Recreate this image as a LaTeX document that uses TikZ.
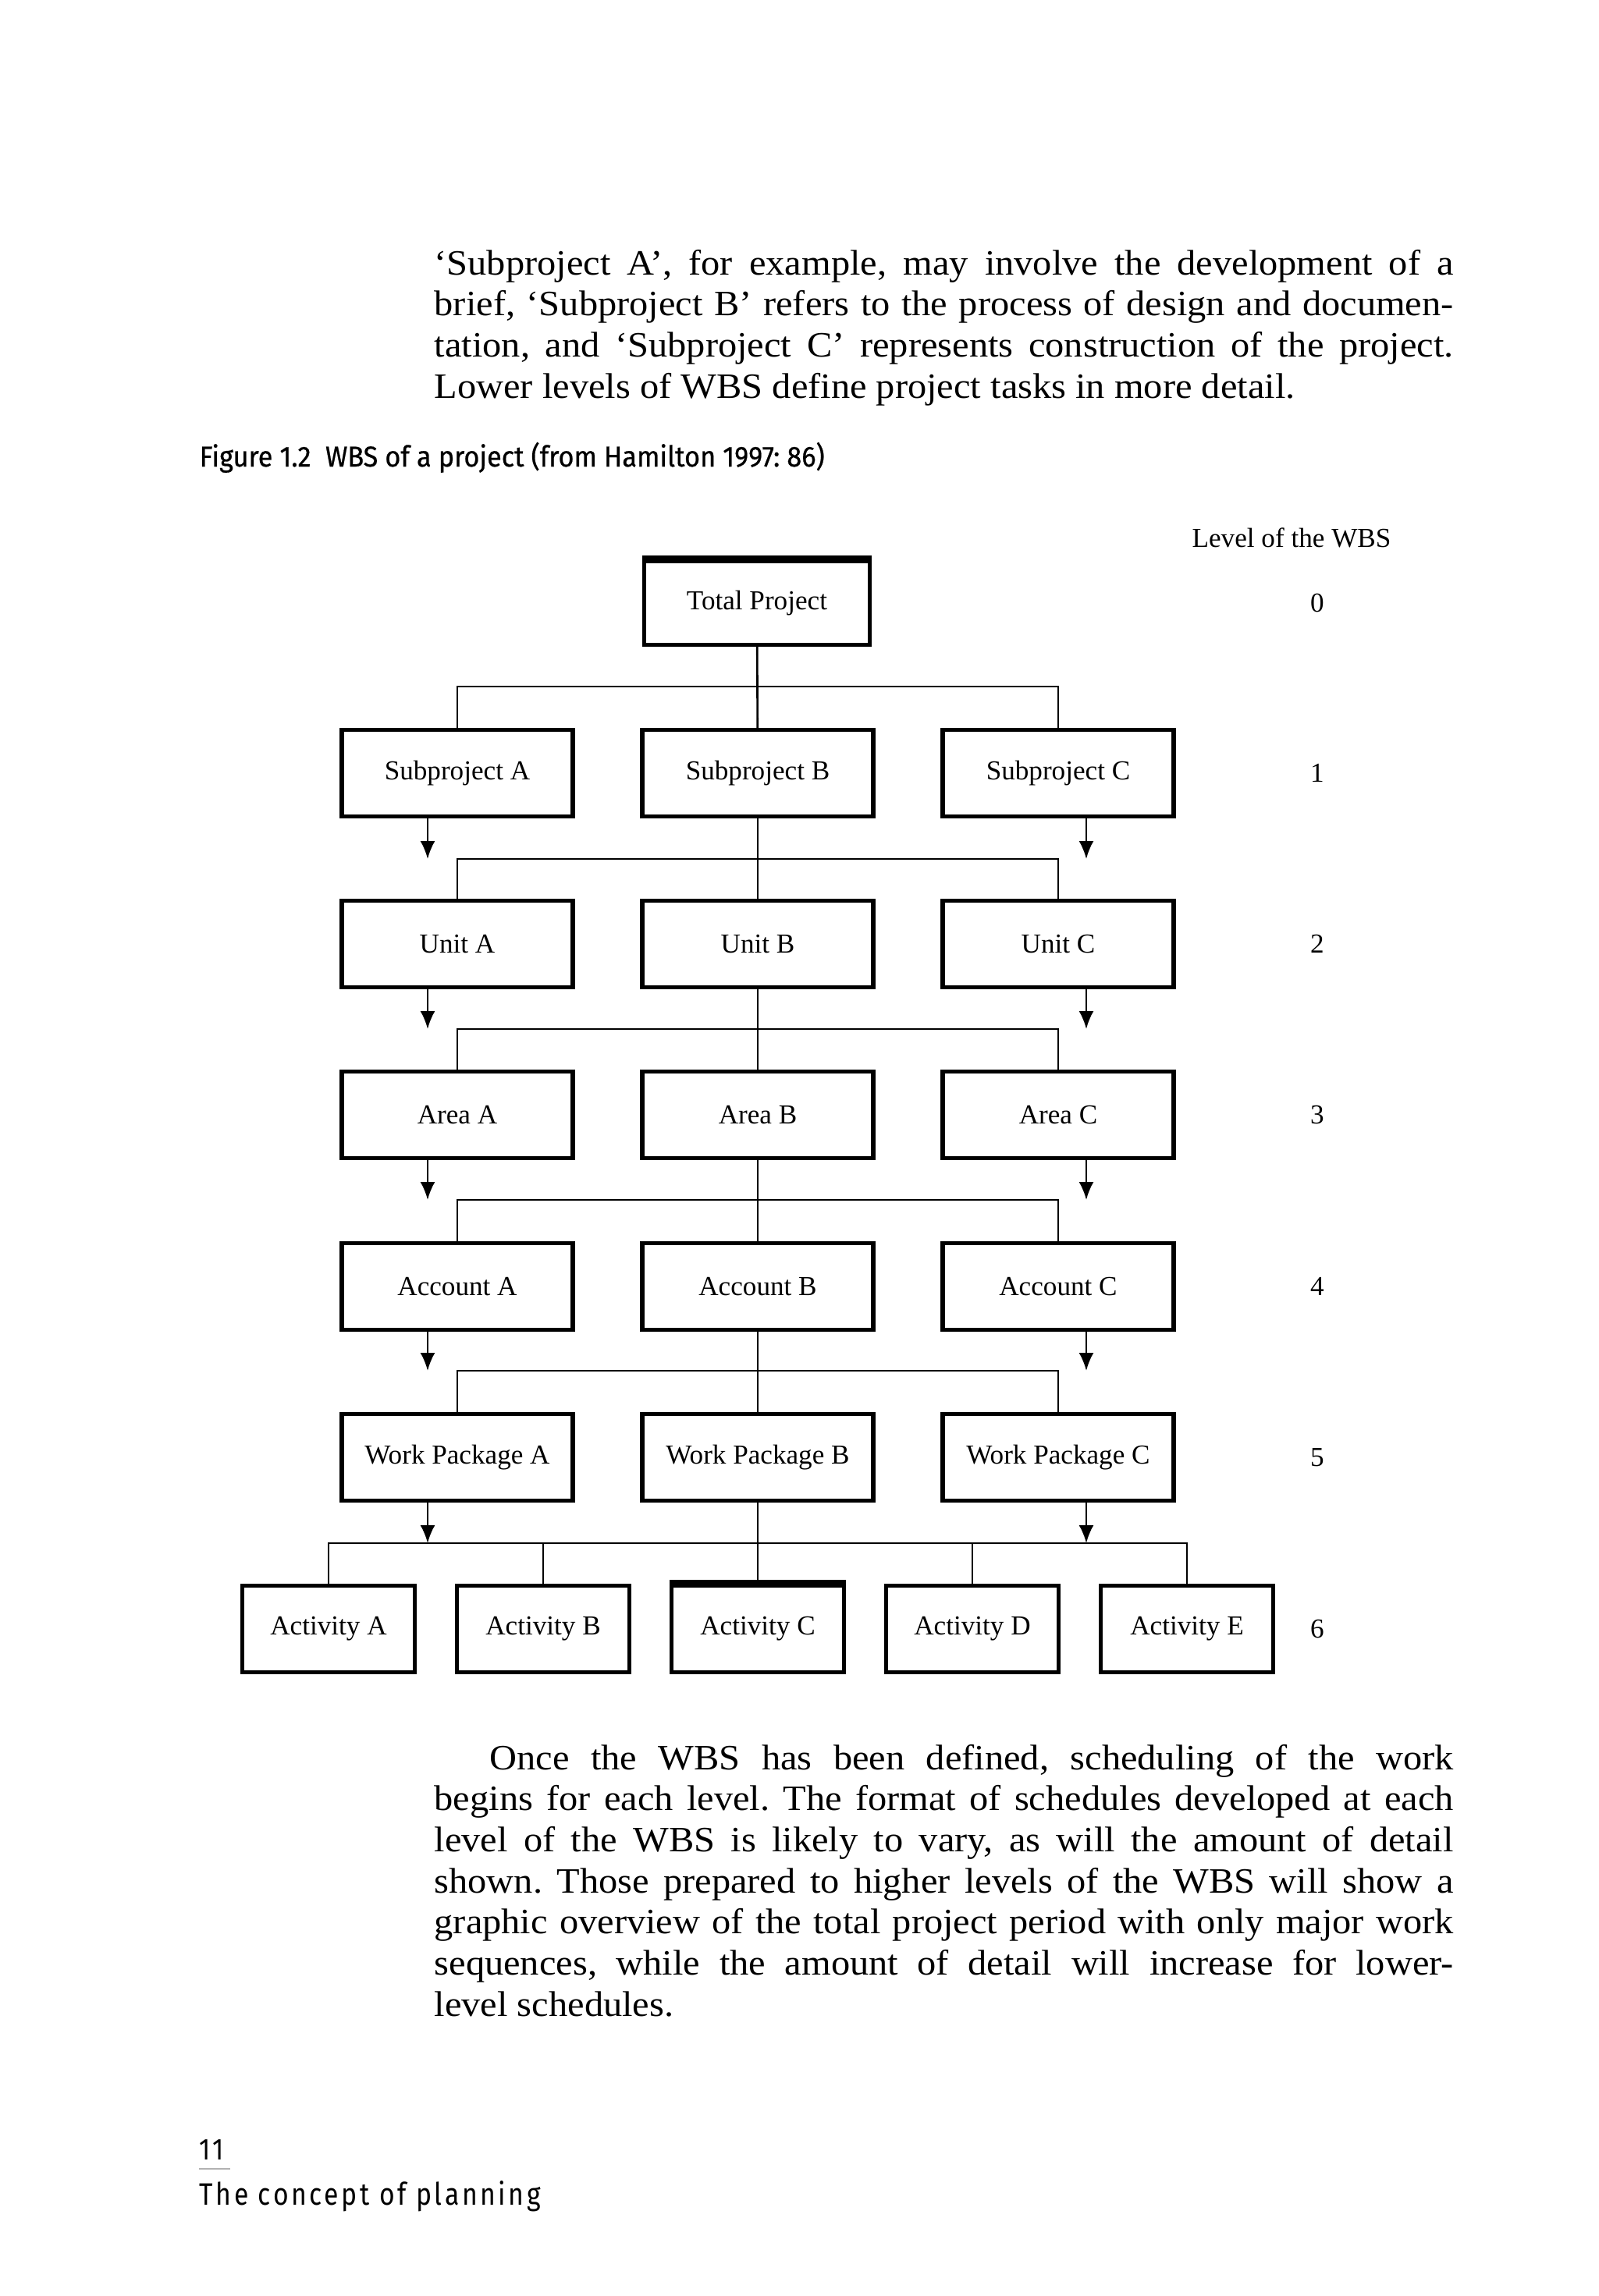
\documentclass[tikz,border=0pt]{standalone}
\usepackage{fontspec}
\setmainfont{Liberation Serif}
\newfontfamily\corps[FakeStretch=1.06]{Liberation Serif}
\newfontfamily\legende[FakeStretch=0.93,FakeBold=0.6]{Fira Sans}
\newfontfamily\pied[FakeStretch=0.85,LetterSpace=9]{Fira Sans}
\usetikzlibrary{arrows.meta}

\begin{document}
\frenchspacing
\begin{tikzpicture}
\tikzset{boite/.style={draw, line width=1.5pt, minimum width=2.96cm, minimum height=1.11cm, inner sep=0pt, font=\fontsize{10}{12}\selectfont},
petite/.style={boite, minimum width=2.21cm},
lien/.style={line width=0.75pt},
fleche/.style={lien, -{Latex[length=2.3mm,width=1.9mm]}},
niveau/.style={font=\fontsize{10}{12}\selectfont},
texte/.style={text width=13.06cm, align=justify, anchor=base west, inner sep=0pt, font=\corps\fontsize{13}{15}\selectfont}}
\useasboundingbox (0,0) rectangle (20.48,-29.43);
\node[texte] (P1) at (5.56,-3.52) {‘Subproject A’, for example, may involve the development of a\linebreak brief, ‘Subproject B’ refers to the process of design and documen-\linebreak tation, and ‘Subproject C’ represents construction of the project.\linebreak Lower levels of WBS define project tasks in more detail.};
\node[anchor=base west, inner sep=0pt, font=\legende\fontsize{10.5}{12}\selectfont] (fig) at (2.55,-5.98) {Figure 1.2\enspace WBS of a project (from Hamilton 1997: 86)};
\node[niveau] (niv) at (16.55,-6.89) {Level of the WBS};
\node[niveau] (N0) at (16.88,-7.73) {0};
\node[niveau] (N1) at (16.88,-9.91) {1};
\node[niveau] (N2) at (16.88,-12.10) {2};
\node[niveau] (N3) at (16.88,-14.29) {3};
\node[niveau] (N4) at (16.88,-16.49) {4};
\node[niveau] (N5) at (16.88,-18.68) {5};
\node[niveau] (N6) at (16.88,-20.88) {6};
\node[boite, minimum width=2.89cm, minimum height=1.07cm] (T) at (9.70,-7.73) {Total Project};
\node[boite] (SA) at (5.86,-9.91) {Subproject A};
\node[boite] (SB) at (9.71,-9.91) {Subproject B};
\node[boite] (SC) at (13.56,-9.91) {Subproject C};
\node[boite] (UA) at (5.86,-12.10) {Unit A};
\node[boite] (UB) at (9.71,-12.10) {Unit B};
\node[boite] (UC) at (13.56,-12.10) {Unit C};
\node[boite] (RA) at (5.86,-14.29) {Area A};
\node[boite] (RB) at (9.71,-14.29) {Area B};
\node[boite] (RC) at (13.56,-14.29) {Area C};
\node[boite] (CA) at (5.86,-16.49) {Account A};
\node[boite] (CB) at (9.71,-16.49) {Account B};
\node[boite] (CC) at (13.56,-16.49) {Account C};
\node[boite] (WA) at (5.86,-18.68) {Work Package A};
\node[boite] (WB) at (9.71,-18.68) {Work Package B};
\node[boite] (WC) at (13.56,-18.68) {Work Package C};
\node[petite] (AA) at (4.21,-20.88) {Activity A};
\node[petite] (AB) at (6.96,-20.88) {Activity B};
\node[petite] (AC) at (9.71,-20.88) {Activity C};
\node[petite] (AD) at (12.46,-20.88) {Activity D};
\node[petite] (AE) at (15.21,-20.88) {Activity E};
\draw[line width=3pt] (T.north west) -- (T.north east);
\draw[line width=3pt] (AC.north west) -- (AC.north east);
\coordinate (bus1) at (0,-8.80);
\coordinate (bus2) at (0,-11.01);
\coordinate (bus3) at (0,-13.19);
\coordinate (bus4) at (0,-15.38);
\coordinate (bus5) at (0,-17.57);
\coordinate (bus6) at (0,-19.78);
\draw[lien] (T) -- (SB);
\draw[lien] (SA.north) |- (bus1 -| SC.north) -- (SC.north);
\draw[lien] (SB) -- (UB);
\draw[lien] (UA.north) |- (bus2 -| UC.north) -- (UC.north);
\draw[fleche] ([xshift=-0.38cm]SA.south) -- ([xshift=-0.38cm]SA.south |- bus2);
\draw[fleche] ([xshift=0.36cm]SC.south) -- ([xshift=0.36cm]SC.south |- bus2);
\draw[lien] (UB) -- (RB);
\draw[lien] (RA.north) |- (bus3 -| RC.north) -- (RC.north);
\draw[fleche] ([xshift=-0.38cm]UA.south) -- ([xshift=-0.38cm]UA.south |- bus3);
\draw[fleche] ([xshift=0.36cm]UC.south) -- ([xshift=0.36cm]UC.south |- bus3);
\draw[lien] (RB) -- (CB);
\draw[lien] (CA.north) |- (bus4 -| CC.north) -- (CC.north);
\draw[fleche] ([xshift=-0.38cm]RA.south) -- ([xshift=-0.38cm]RA.south |- bus4);
\draw[fleche] ([xshift=0.36cm]RC.south) -- ([xshift=0.36cm]RC.south |- bus4);
\draw[lien] (CB) -- (WB);
\draw[lien] (WA.north) |- (bus5 -| WC.north) -- (WC.north);
\draw[fleche] ([xshift=-0.38cm]CA.south) -- ([xshift=-0.38cm]CA.south |- bus5);
\draw[fleche] ([xshift=0.36cm]CC.south) -- ([xshift=0.36cm]CC.south |- bus5);
\draw[lien] (WB) -- (AC);
\draw[lien] (AA.north) |- (bus6 -| AE.north) -- (AE.north);
\draw[lien] (AB.north) -- (AB.north |- bus6);
\draw[lien] (AD.north) -- (AD.north |- bus6);
\draw[fleche] ([xshift=-0.38cm]WA.south) -- ([xshift=-0.38cm]WA.south |- bus6);
\draw[fleche] ([xshift=0.36cm]WC.south) -- ([xshift=0.36cm]WC.south |- bus6);
\node[texte] (P2) at (5.56,-22.68) {\hspace*{0.71cm}Once the WBS has been defined, scheduling of the work\linebreak begins for each level. The format of schedules developed at each\linebreak level of the WBS is likely to vary, as will the amount of detail\linebreak shown. Those prepared to higher levels of the WBS will show a\linebreak graphic overview of the total project period with only major work\linebreak sequences, while the amount of detail will increase for lower-\linebreak level schedules.};
\node[anchor=base west, inner sep=0pt, font=\pied\fontsize{11}{13}\selectfont] (page) at (2.55,-27.68) {11};
\draw[gray!60, line width=0.8pt] (2.55,-27.80) -- (2.95,-27.80);
\node[anchor=base west, inner sep=0pt, font=\pied\fontsize{11.3}{13}\selectfont] (titre) at (2.55,-28.26) {The concept of planning};
\end{tikzpicture}
\end{document}
